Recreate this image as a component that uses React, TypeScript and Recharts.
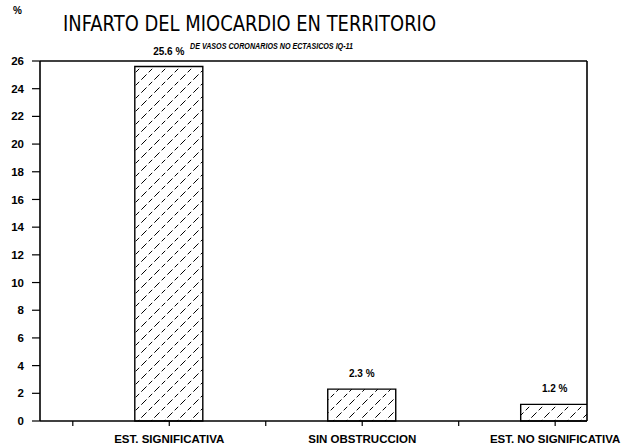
import { BarChart, Bar, XAxis, YAxis, LabelList, ReferenceLine } from "recharts";

const categories = ["EST. SIGNIFICATIVA", "SIN OBSTRUCCION", "EST. NO SIGNIFICATIVA"];
const percents = [25.6, 2.3, 1.2];
const valueLabels = ["25.6 %", "2.3 %", "1.2 %"];
const yTicks = [0, 2, 4, 6, 8, 10, 12, 14, 16, 18, 20, 22, 24, 26];
const xTicks = [1, 2, 3, 4, 5, 6];

const X_MIN = 0.66;
const X_MAX = 6.33;

// each category sits on an even tick, odd ticks are unlabeled separators
const data = categories.map((name, i) => ({
  name,
  pos: (i + 1) * 2,
  value: percents[i],
  label: valueLabels[i],
}));

const tickLabel = (v: number) => {
  const i = v / 2 - 1;
  return Number.isInteger(i) && categories[i] ? categories[i] : "";
};

const boldFont = "'Liberation Sans', Arial, sans-serif";

export default function App() {
  return (
    <div style={{ position: "relative", width: 621, height: 446, background: "#fff" }}>
      <style>{`body { margin: 0; }`}</style>
      <BarChart
        width={621}
        height={446}
        data={data}
        margin={{ top: 61, right: 34, bottom: 0, left: 0 }}
      >
        <defs>
          <pattern id="hatch" patternUnits="userSpaceOnUse" width="13" height="13">
            <line x1="0" y1="13" x2="13" y2="0" stroke="#000" strokeWidth="1" strokeDasharray="5 3" />
          </pattern>
        </defs>
        <XAxis
          type="number"
          dataKey="pos"
          domain={[X_MIN, X_MAX]}
          allowDataOverflow
          ticks={xTicks}
          tickFormatter={tickLabel}
          height={25}
          tickSize={5}
          tickMargin={9}
          interval={0}
          axisLine={{ stroke: "#000", strokeWidth: 1.6 }}
          tickLine={{ stroke: "#000", strokeWidth: 1.2 }}
          tick={{ fill: "#000", fontSize: 11.5, fontWeight: 900, fontFamily: boldFont }}
        />
        <YAxis
          domain={[0, 26]}
          ticks={yTicks}
          width={40}
          tickSize={8}
          tickMargin={8}
          interval={0}
          axisLine={{ stroke: "#000", strokeWidth: 1.6 }}
          tickLine={{ stroke: "#000", strokeWidth: 1.2 }}
          tick={{ fill: "#000", fontSize: 11.5, fontWeight: 900, fontFamily: boldFont }}
        />
        <ReferenceLine y={26} stroke="#000" strokeWidth={1.6} />
        <ReferenceLine x={X_MAX} stroke="#000" strokeWidth={1.6} />
        <Bar
          dataKey="value"
          barSize={68}
          fill="url(#hatch)"
          stroke="#000"
          strokeWidth={1.4}
          isAnimationActive={false}
        >
          <LabelList
            dataKey="label"
            position="top"
            offset={12}
            fill="#000"
            fontSize={10}
            fontWeight={900}
            fontFamily={boldFont}
          />
        </Bar>
      </BarChart>
      <svg
        width={621}
        height={60}
        style={{ position: "absolute", left: 0, top: 0, pointerEvents: "none" }}
      >
        <text x={13} y={14} fontSize={10} fontWeight={700} fontFamily={boldFont} fill="#000">
          %
        </text>
        <text
          x={63}
          y={31}
          fontSize={22}
          fontFamily="'DejaVu Sans', sans-serif"
          fontWeight={400}
          textLength={373}
          lengthAdjust="spacingAndGlyphs"
          fill="#000"
        >
          INFARTO DEL MIOCARDIO EN TERRITORIO
        </text>
        <text
          x={190}
          y={49}
          fontSize={9.5}
          fontStyle="italic"
          fontWeight={900}
          fontFamily={boldFont}
          textLength={163}
          lengthAdjust="spacingAndGlyphs"
          fill="#000"
        >
          DE VASOS CORONARIOS NO ECTASICOS IQ-11
        </text>
      </svg>
    </div>
  );
}
